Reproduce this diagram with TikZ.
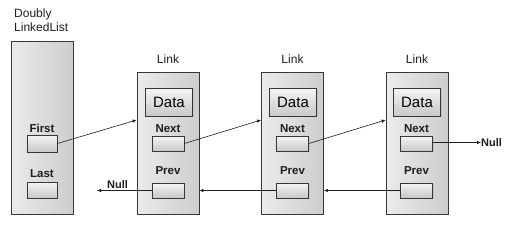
\documentclass[tikz,border=0pt]{standalone}
\usepackage{fontspec}
\setmainfont{Liberation Sans}
\usetikzlibrary{arrows.meta,positioning,shadows}
\definecolor{llEdge} {RGB}{ 55, 55, 55}
\definecolor{llLine} {RGB}{ 30, 30, 30}
\definecolor{llFillL}{RGB}{235,235,235}
\definecolor{llFillD}{RGB}{205,205,205}
\definecolor{llSlotL}{RGB}{245,245,245}
\definecolor{llSlotD}{RGB}{200,200,200}

\begin{document}
\begin{tikzpicture}[
    x=1pt,y=-1pt,
    every node/.style={align=center,inner sep=0pt},
    holder/.style={rectangle,draw=llEdge,line width=0.8pt,
                   left color=llFillL,right color=llFillD,
                   minimum width=62pt},
    slot/.style={rectangle,draw=llEdge,line width=0.7pt,
                 top color=llSlotL,bottom color=llSlotD,
                 minimum width=32pt,minimum height=15pt,
                 drop shadow={opacity=0.2,shadow xshift=1pt,shadow yshift=-1pt}},
    datab/.style={slot,minimum width=47pt,minimum height=28pt,
                  font=\fontsize{15}{17}\selectfont},
    tag/.style={font=\fontsize{11.5}{13}\selectfont\bfseries,color=llLine},
    title/.style={font=\fontsize{12}{14}\selectfont,color=llLine},
    ptr/.style={-{Latex[length=4pt,width=3.5pt]},line width=0.6pt,color=llLine}
  ]
  \useasboundingbox (0,0) rectangle (509,233);
  % List holder
  \node[holder,minimum height=173pt] (dll) at (42,127.5) {};
  \node[title,anchor=north west,align=left] (dlltxt) at (14,9)
    {Doubly\\LinkedList};
  \node[slot,minimum width=30pt,minimum height=17pt] (first) at (42,143.5) {};
  \node[tag,above=2pt of first] (firsttxt) {First};
  \node[slot,minimum width=30pt,minimum height=16pt] (last) at (42,190) {};
  \node[tag,above=4pt of last] (lasttxt) {Last};
  % Links
  \node[holder,minimum height=142pt] (l1) at (168,143) {};
  \node[holder,minimum height=142pt] (l2) at (292.5,143) {};
  \node[holder,minimum height=142pt] (l3) at (417,143) {};
  \node[title,above=8pt of l1] (l1txt) {Link};
  \node[title,above=8pt of l2] (l2txt) {Link};
  \node[title,above=8pt of l3] (l3txt) {Link};
  \node[datab] (d1) at (169,102) {Data};
  \node[datab] (d2) at (293,102) {Data};
  \node[datab] (d3) at (417,102) {Data};
  \node[slot] (nxt1) at (168,143.5) {};
  \node[slot] (nxt2) at (292.5,143.5) {};
  \node[slot] (nxt3) at (416.5,143.5) {};
  \node[tag,above=3pt of nxt1] (nxt1txt) {Next};
  \node[tag,above=3pt of nxt2] (nxt2txt) {Next};
  \node[tag,above=3pt of nxt3] (nxt3txt) {Next};
  \node[slot] (prv1) at (168,190.5) {};
  \node[slot] (prv2) at (292.5,190.5) {};
  \node[slot] (prv3) at (416.5,190.5) {};
  \node[tag,above=8pt of prv1] (prv1txt) {Prev};
  \node[tag,above=8pt of prv2] (prv2txt) {Prev};
  \node[tag,above=8pt of prv3] (prv3txt) {Prev};
  % Null ends
  \node[tag,font=\fontsize{11}{13}\selectfont\bfseries] (nullL) at (117.5,185) {Null};
  \coordinate (nullEnd) at (97,190.5);
  \node[tag,font=\fontsize{11}{13}\selectfont\bfseries,anchor=west] (nullR)
    at (481,142.5) {Null};
  % Pointers
  \draw[ptr] (first.east) -- ([yshift=23pt]l1.west);
  \draw[ptr] (nxt1.east) -- ([yshift=23pt]l2.west);
  \draw[ptr] (nxt2.east) -- ([yshift=23pt]l3.west);
  \draw[ptr] (nxt3.east |- nullR.west) -- (nullR.west);
  \draw[ptr] (prv3.west) -- (prv3.west -| l2.east);
  \draw[ptr] (prv2.west) -- (prv2.west -| l1.east);
  \draw[ptr] (prv1.west) -- (nullEnd);
\end{tikzpicture}
\end{document}
